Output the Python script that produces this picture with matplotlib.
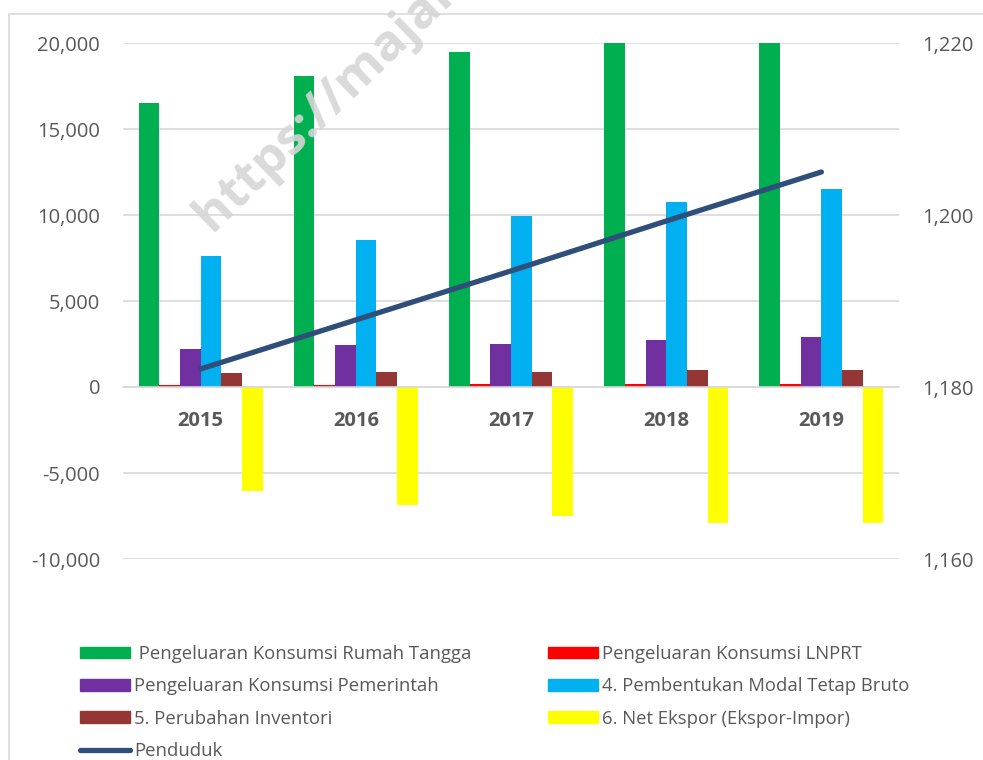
import matplotlib
matplotlib.use("Agg")
import matplotlib.pyplot as plt
import numpy as np
from matplotlib.patches import Rectangle, Patch
from matplotlib.lines import Line2D

years = ["2015", "2016", "2017", "2018", "2019"]
konsumsi_rt = [16500, 18080, 19480, 20400, 21100]
konsumsi_lnprt = [120, 130, 175, 185, 185]
konsumsi_pemerintah = [2230, 2420, 2490, 2710, 2900]
pmtb = [7620, 8550, 9930, 10760, 11540]
inventori = [800, 860, 900, 960, 980]
net_ekspor = [-6050, -6860, -7490, -7880, -7880]
penduduk = [1182.1, 1187.8, 1193.5, 1199.3, 1205.0]

series_labels = [" Pengeluaran Konsumsi Rumah Tangga", "Pengeluaran Konsumsi LNPRT",
                 "Pengeluaran Konsumsi Pemerintah", "4. Pembentukan Modal Tetap Bruto",
                 "5. Perubahan Inventori", "6. Net Ekspor (Ekspor-Impor)"]
line_label = "Penduduk"
colors = ["#00B050", "#FF0000", "#7030A0", "#00B0F0", "#943634", "#FFFF00"]
line_color = "#2F4F7A"
txt = "#595959"
grid = "#D9D9D9"
FONT = ["Open Sans", "DejaVu Sans"]
plt.rcParams["font.family"] = FONT

fig = plt.figure(figsize=(9.83, 7.6), dpi=100)
W, H = 983, 760
# chart border
fig.patches.append(Rectangle((8.5 / W, -0.1), 1.2, 1.1 - 14.5 / H, transform=fig.transFigure,
                             fill=False, edgecolor=grid, linewidth=1.2, zorder=0))

ax = fig.add_axes([123 / W, 1 - 559 / H, 776 / W, 516 / H])
ax.set_xlim(-0.5, 4.5)
ax.set_ylim(-10000, 20000)
ax.patch.set_alpha(0)

x = np.arange(len(years))
data = [konsumsi_rt, konsumsi_lnprt, konsumsi_pemerintah, pmtb, inventori, net_ekspor]
bw = 0.8 / 6
for i, (vals, c) in enumerate(zip(data, colors)):
    ax.bar(x - 0.4 + bw * (i + 0.5), vals, width=bw, color=c, linewidth=0, zorder=3)

ax.set_yticks([-10000, -5000, 0, 5000, 10000, 15000, 20000])
ax.set_yticklabels(["-10,000", "-5,000", "0", "5,000", "10,000", "15,000", "20,000"])
ax.grid(axis="y", color=grid, linewidth=1.2, zorder=0)
ax.set_axisbelow(True)
for s in ["top", "right", "left"]:
    ax.spines[s].set_visible(False)
ax.spines["bottom"].set_position(("data", 0))
ax.spines["bottom"].set_color(grid)
ax.spines["bottom"].set_linewidth(1.2)
ax.spines["bottom"].set_zorder(4)
ax.set_xticks(x)
ax.set_xticklabels(years, fontsize=14.5, fontweight="bold", color=txt)
ax.tick_params(axis="x", length=0, pad=17)
ax.tick_params(axis="y", length=0, pad=16.5, labelsize=14.5, labelcolor=txt)

ax2 = ax.twinx()
ax2.set_ylim(1160, 1220)
ax2.set_yticks([1160, 1180, 1200, 1220])
ax2.set_yticklabels(["1,160", "1,180", "1,200", "1,220"])
ax2.tick_params(axis="y", length=0, pad=17, labelsize=14.5, labelcolor=txt)
for s in ax2.spines.values():
    s.set_visible(False)
ax2.plot(x, penduduk, color=line_color, linewidth=3.8, solid_capstyle="round", zorder=5)

# watermark (runs off the top edge, as in the source image)
fig.text(212 / W, 1 - 232 / H, "https://majalahpendidikan.com", rotation=44,
         rotation_mode="anchor", ha="left", va="baseline", fontsize=37,
         fontweight="bold", color="#D6D6D6", alpha=0.9, zorder=1)

handles = [Patch(color=colors[0]), Patch(color=colors[2]), Patch(color=colors[4]),
           Line2D([0], [0], color=line_color, linewidth=3.8, solid_capstyle="round"),
           Patch(color=colors[1]), Patch(color=colors[3]), Patch(color=colors[5])]
labels = [series_labels[0], series_labels[2], series_labels[4], line_label,
          series_labels[1], series_labels[3], series_labels[5]]
leg = fig.legend(handles, labels, ncol=2, loc="upper left",
                 bbox_to_anchor=(80 / W, 1 - 645 / H), frameon=False,
                 fontsize=13.3, handlelength=2.7, handleheight=0.62,
                 handletextpad=0.22, labelspacing=0.78, columnspacing=4.15,
                 labelcolor=txt, borderaxespad=0, borderpad=0)

fig.savefig("out.png", dpi=100)
